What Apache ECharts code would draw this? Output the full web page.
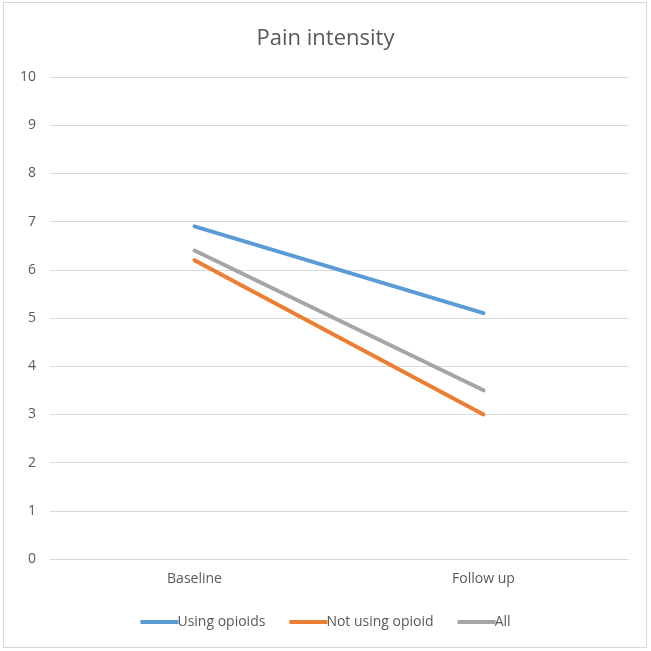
<!DOCTYPE html>
<html><head><meta charset="utf-8">
<script src="https://cdn.jsdelivr.net/npm/echarts@6/dist/echarts.min.js"></script>
<style>
html,body{margin:0;padding:0;background:#fff;}
#frame{position:absolute;left:3px;top:2px;width:644px;height:646px;border:1px solid #d9d9d9;box-sizing:border-box;}
#c{position:absolute;left:0;top:0;width:651px;height:651px;}
</style></head><body>
<div id="frame"></div>
<div id="c"></div>
<script>
const title = "Pain intensity";
const categories = ["Baseline", "Follow up"];
const usingOpioids = [6.9, 5.1];
const notUsingOpioid = [6.2, 3.0];
const allPatients = [6.4, 3.5];
const seriesNames = ["Using opioids", "Not using opioid", "All"];
const colors = ["#5B9BD5", "#ED7D31", "#A5A5A5"];

const chart = echarts.init(document.getElementById('c'), null, {renderer:'canvas'});
const font = "'Open Sans', 'Liberation Sans', sans-serif";
const mk = (name, data, color) => ({
  name, type:'line', data, symbol:'none', smooth:false,
  lineStyle:{width:4, color, cap:'round'}, itemStyle:{color}
});
chart.setOption({
  animation:false,
  title:{text:title, left:'center', top:23, textStyle:{fontFamily:font, fontSize:22, fontWeight:'normal', color:'#595959'}},
  legend:{bottom:17, left:'center', itemWidth:38, itemHeight:4, itemGap:24,
    icon:'rect',
    textStyle:{fontFamily:font, fontSize:14, color:'#595959', padding:[0,0,0,-6]},
    data:seriesNames},
  grid:{left:50, right:23, top:77, bottom:92, containLabel:false},
  xAxis:{type:'category', data:categories, boundaryGap:true,
    axisLine:{show:true, lineStyle:{color:'#d9d9d9', width:1}},
    axisTick:{show:false},
    axisLabel:{fontFamily:font, fontSize:14, color:'#595959', margin:13}},
  yAxis:{type:'value', min:0, max:10, interval:1,
    axisLine:{show:false}, axisTick:{show:false},
    splitLine:{lineStyle:{color:'#d9d9d9', width:1}},
    axisLabel:{fontFamily:font, fontSize:14, color:'#595959', margin:14}},
  series:[
    mk(seriesNames[0], usingOpioids, colors[0]),
    mk(seriesNames[1], notUsingOpioid, colors[1]),
    mk(seriesNames[2], allPatients, colors[2])
  ]
});
</script>
</body></html>
